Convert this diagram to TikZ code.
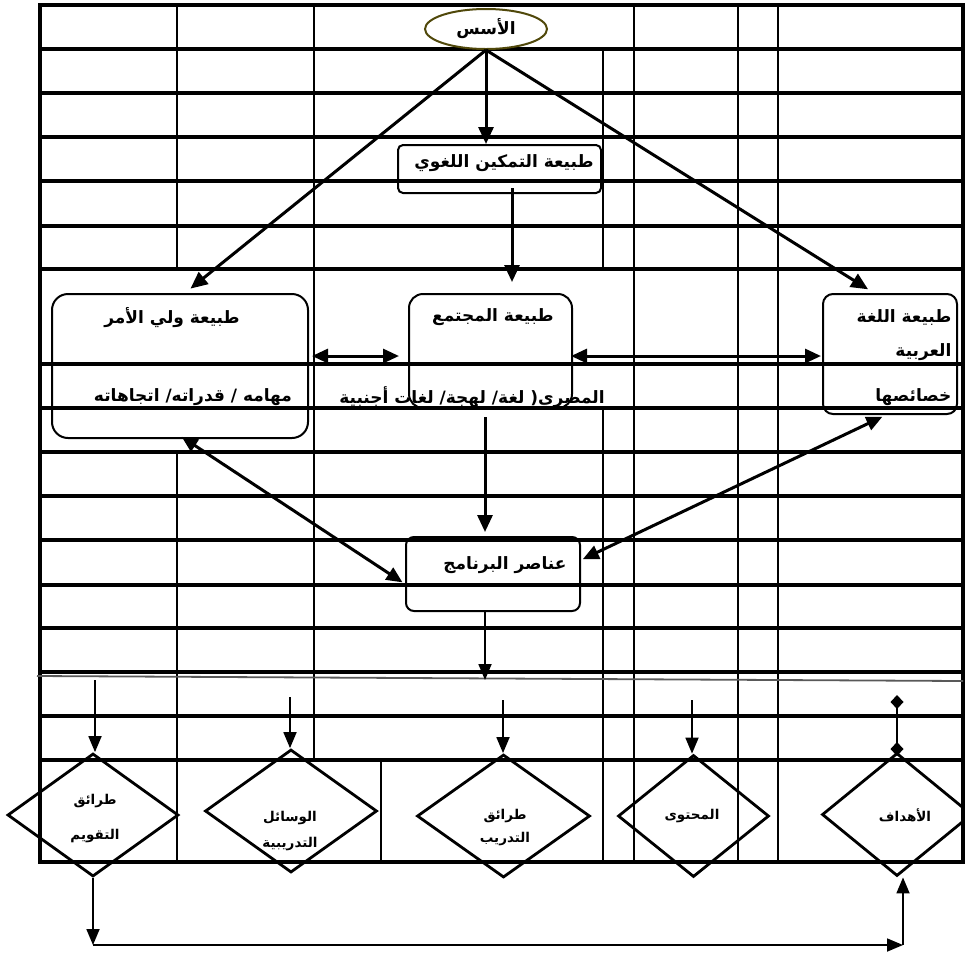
\documentclass[tikz,border=0pt]{standalone}
\usepackage{fontspec}
\newfontfamily\arabicfont[Script=Arabic]{DejaVu Sans}
\TeXXeTstate=1
\usetikzlibrary{arrows.meta, positioning, shapes.geometric}
\definecolor{olivedark}{RGB}{80,72,10}

\begin{document}
\begin{tikzpicture}[
    x=1pt, y=-1pt,
    every node/.style={font=\arabicfont\bfseries\fontsize{17}{19}\selectfont},
    small/.style={font=\arabicfont\bfseries\fontsize{13.5}{15}\selectfont},
    tableline/.style={line width=3.4pt},
    colline/.style={line width=2.6pt},
    box/.style={draw,line width=2pt,inner sep=0pt},
    dia/.style={draw,diamond,line width=2.8pt,inner sep=0pt},
    arr/.style={-{Triangle[length=17pt,width=15pt]},line width=3pt},
    dbl/.style={{Triangle[length=16pt,width=14pt]}-{Triangle[length=16pt,width=14pt]},line width=3pt},
    thinarr/.style={-{Triangle[length=16pt,width=13pt]},line width=1.8pt}
]
\useasboundingbox (0,0) rectangle (965,954);

% table behind the chart
\draw[tableline] (40,5) rectangle (963,862);
\draw[tableline] (40,49) -- (963,49) (40,93) -- (963,93) (40,137) -- (963,137)
    (40,181) -- (963,181) (40,226) -- (963,226) (40,269) -- (963,269)
    (40,364) -- (963,364) (40,408) -- (963,408) (40,452) -- (963,452)
    (40,496) -- (963,496) (40,540) -- (963,540) (40,585) -- (963,585)
    (40,628) -- (963,628) (40,672) -- (963,672) (40,716) -- (963,716)
    (40,760) -- (963,760);
\draw[colline] (177,5) -- (177,269) (177,452) -- (177,862)
    (314,5) -- (314,760) (381,760) -- (381,862)
    (603,49) -- (603,269) (603,408) -- (603,862)
    (634,5) -- (634,862) (738,5) -- (738,862) (778,5) -- (778,862);
\draw[gray!70!black,line width=1.8pt] (37,676) -- (963,681);

% nodes
\node[draw=olivedark,ellipse,line width=2pt,fill=white,
      minimum width=122pt,minimum height=40pt] (asas) at (486,29) {\beginR الأسس\endR};
\node[box,rounded corners=5pt,minimum width=203pt,minimum height=48pt] (tamkeen) at (499.5,169) {};
\node at (504,163) (ttamkeen) {\beginR طبيعة التمكين اللغوي\endR};

\node[box,rounded corners=16pt,minimum width=256pt,minimum height=144pt] (walii) at (180,366) {};
\node at (172,318) (twalii) {\beginR طبيعة ولي الأمر\endR};
\node at (193,397) (twalii2) {\beginR مهامه / قدراته/ اتجاهاته\endR};

\node[box,rounded corners=14pt,minimum width=163pt,minimum height=114pt] (mujtama) at (490.5,351) {};
\node at (493,317) (tmujtama) {\beginR طبيعة المجتمع\endR};
\node at (472,397) (tmujtama2) {\beginR المصري( لغة/ لهجة/ لغات أجنبية\endR};

\node[box,rounded corners=10pt,minimum width=134pt,minimum height=120pt] (lugha) at (890,354) {};
\node[anchor=east] at (955,318) (tlugha) {\beginR طبيعة  اللغة\endR};
\node[anchor=east] at (955,352) (tlugha2) {\beginR العربية\endR};
\node[anchor=east] at (955,397) (tlugha3) {\beginR خصائصها\endR};

\node[box,rounded corners=8pt,minimum width=174pt,minimum height=74pt] (barnamaj) at (493,574) {};
\node at (505,565) (tbarnamaj) {\beginR عناصر البرنامج\endR};

\node[dia,minimum width=171pt,minimum height=123pt] (taqweem) at (93,815) {};
\node[small,align=center] at (95,819) (ttaqweem) {\beginR طرائق\endR\\[20pt]\beginR التقويم\endR};
\node[dia,minimum width=172pt,minimum height=123pt] (wasail) at (291,811) {};
\node[small,align=center] at (290,831) (twasail) {\beginR الوسائل\endR\\[11pt]\beginR التدريبية\endR};
\node[dia,minimum width=173pt,minimum height=123pt] (tadreeb) at (503.5,816) {};
\node[small,align=center] at (505,828) (ttadreeb) {\beginR طرائق\endR\\[8pt]\beginR التدريب\endR};
\node[dia,minimum width=151pt,minimum height=122pt] (muhtawa) at (693.5,816) {};
\node[small] at (692,816) (tmuhtawa) {\beginR المحتوى\endR};
\node[dia,minimum width=150pt,minimum height=123pt] (ahdaf) at (897,814.5) {};
\node[small] at (905,815) (tahdaf) {\beginR الأهداف\endR};

\coordinate (lvl) at (0,356);
\coordinate (split) at (485,680);
\coordinate (s1) at (95,680);
\coordinate (s2) at (290,697);
\coordinate (s3) at (503,700);
\coordinate (s4) at (692,700);
\coordinate (d1) at (897,695);
\coordinate (d2) at (897,756);
\coordinate (c1) at (93,945);
\coordinate (c2) at (903,945);

% connectors
\draw[arr] (asas.south) -- (asas.south |- tamkeen.north);
\draw[arr,shorten >=7pt] (asas.south) -- ([xshift=5pt]walii.north);
\draw[arr,shorten >=7pt] (asas.south) -- ([xshift=-16pt]lugha.north);
\draw[arr,shorten <=-6pt,shorten >=11pt] ([xshift=12.5pt]tamkeen.south) -- ([xshift=21.5pt]mujtama.north);
\draw[dbl,shorten <=3pt,shorten >=9pt] (walii.east |- lvl) -- (mujtama.west |- lvl);
\draw[dbl,shorten <=-2pt,shorten >=1pt] (mujtama.east |- lvl) -- (lugha.west |- lvl);
\draw[arr,shorten <=8pt,shorten >=4pt] ([xshift=-5.5pt]mujtama.south) -- ([xshift=-8pt]barnamaj.north);
\draw[dbl,shorten <=-4pt,shorten >=3pt] ([xshift=5pt]walii.south) -- ([yshift=-10pt]barnamaj.west);
\draw[dbl,shorten <=4pt,shorten >=2pt] ([xshift=-4pt]lugha.south) -- ([yshift=14pt]barnamaj.east);
\draw[thinarr] ([xshift=-8pt]barnamaj.south) -- (split);
\draw[thinarr] (s1) -- (s1 |- taqweem.north);
\draw[thinarr] (s2) -- (s2 |- wasail.north);
\draw[thinarr] (s3) -- (s3 |- tadreeb.north);
\draw[thinarr] (s4) -- (s4 |- muhtawa.north);
\draw[{Diamond[length=14pt,width=13pt]}-{Diamond[length=14pt,width=13pt]},line width=1.8pt] (d1) -- (d2);
\draw[thinarr] (taqweem.south) -- (c1);
\draw[thinarr] (c1) -- (c2);
\draw[thinarr] (c2) -- (c2 |- ahdaf.south);
\end{tikzpicture}
\end{document}
